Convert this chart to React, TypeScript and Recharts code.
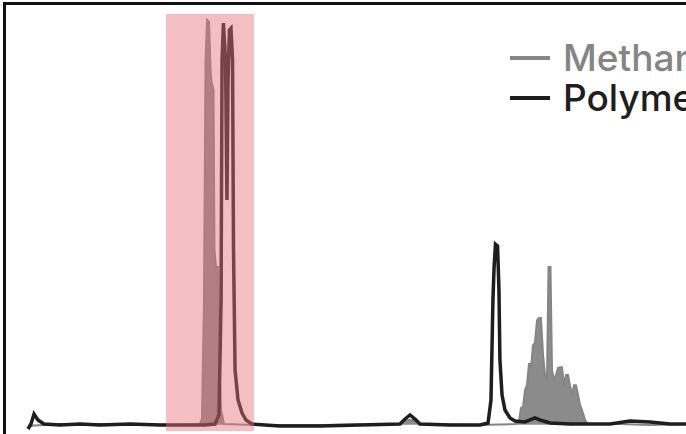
import { Area, ComposedChart, Line, ReferenceArea, XAxis, YAxis } from "recharts";

const METHANOL_COLOR = "#858585";
const POLYMER_COLOR = "#1e1e1e";
const HIGHLIGHT = "#e4707a";

const SERIES_NAMES = ["Methanol", "Polymer"];

// highlighted elution window (retention time)
const WINDOW_START = 9.86;
const WINDOW_END = 16.14;

// [retention time, signal]
const methanol: [number, number][] = [
  [0, 1.2], [2.29, 1.68], [6.57, 1.68], [10.86, 1.44], [12.29, 1.68],
  [12.43, 3.12], [12.57, 31.4], [12.68, 89.0], [12.79, 98.6], [12.93, 98.1],
  [13.04, 86.6], [13.11, 83.7], [13.25, 81.8], [13.32, 43.4], [13.43, 39.3],
  [13.57, 39.3], [13.64, 19.4], [13.79, 5.04], [14.0, 1.68], [16.57, 1.44],
  [20.86, 1.44], [26.57, 1.68], [27.14, 2.64], [27.57, 2.64], [28.0, 1.68],
  [32.29, 1.44], [34.79, 1.68], [35.07, 2.16], [35.21, 5.52], [35.36, 5.76],
  [35.5, 9.83], [35.64, 11.0], [35.79, 16.3], [35.93, 15.1], [36.07, 20.6],
  [36.21, 21.1], [36.36, 26.6], [36.5, 27.1], [36.64, 27.1], [36.79, 18.2],
  [36.93, 13.4], [37.07, 12.2], [37.18, 39.3], [37.32, 39.3], [37.43, 14.6],
  [37.57, 12.2], [37.71, 13.4], [37.86, 15.1], [38.0, 15.3], [38.14, 15.3],
  [38.29, 11.0], [38.43, 13.4], [38.57, 13.4], [38.71, 11.0], [38.86, 8.63],
  [39.0, 11.0], [39.14, 11.0], [39.29, 8.63], [39.43, 6.24], [39.57, 5.04],
  [39.79, 2.64], [40.0, 1.68], [42.29, 1.68], [44.43, 1.44], [47, 1.68],
];

const polymer: [number, number][] = [
  [0, 0.48], [0.21, 1.68], [0.43, 4.08], [0.71, 2.64], [1.14, 1.68],
  [2.29, 1.44], [3.71, 1.68], [5.14, 1.44], [7.29, 1.68], [9.43, 1.44],
  [11.57, 1.44], [12.64, 1.44], [13.36, 1.68], [13.64, 3.84], [13.79, 31.4],
  [13.86, 89.0], [13.96, 97.8], [14.11, 89.0], [14.21, 55.4], [14.29, 84.2],
  [14.39, 96.2], [14.5, 96.6], [14.61, 89.0], [14.68, 43.4], [14.79, 14.6],
  [15.0, 7.43], [15.29, 4.32], [15.57, 2.64], [16.0, 1.68], [18.0, 1.2],
  [20.86, 1.2], [23.71, 1.44], [26.57, 1.68], [26.93, 2.88], [27.29, 3.84],
  [27.64, 2.88], [28.0, 1.68], [30.14, 1.44], [32.29, 1.44], [32.86, 1.92],
  [33.07, 7.43], [33.21, 31.4], [33.29, 39.1], [33.39, 44.8], [33.54, 44.4],
  [33.64, 33.8], [33.71, 17.0], [33.86, 8.63], [34.07, 5.04], [34.43, 3.12],
  [34.79, 2.4], [35.5, 2.16], [36.21, 3.12], [36.57, 2.64], [37.29, 1.92],
  [38.71, 1.68], [40.14, 1.68], [41.57, 1.68], [43.0, 2.4], [44.43, 2.16],
  [45.86, 1.68], [47, 1.68],
];

const toPoints = (rows: [number, number][]) => rows.map(([t, v]) => ({ t, v }));

function LegendRow({ name, color }: { name: string; color: string }) {
  return (
    <div style={{ display: "flex", alignItems: "center", height: 40, lineHeight: "40px" }}>
      <span style={{ display: "inline-block", width: 40, height: 4, background: color, marginRight: 13 }} />
      <span style={{ color, whiteSpace: "nowrap" }}>{name}</span>
    </div>
  );
}

export default function App() {
  return (
    <div
      style={{
        position: "absolute",
        left: 0,
        top: 0,
        width: 686,
        height: 434,
        overflow: "hidden",
        background: "#fff",
      }}
    >
      <div
        style={{
          position: "absolute",
          left: 3,
          top: 2,
          width: 720,
          height: 460,
          borderLeft: "3px solid #111",
          borderTop: "3px solid #111",
          boxSizing: "border-box",
        }}
      />
      <ComposedChart width={686} height={434} margin={{ top: 14, right: 0, bottom: 3, left: 28 }}>
        <XAxis
          type="number"
          dataKey="t"
          domain={[0, 47]}
          tick={false}
          tickLine={false}
          axisLine={{ stroke: POLYMER_COLOR, strokeWidth: 2.5 }}
          height={0}
        />
        <YAxis type="number" domain={[0, 100]} hide />
        <Area
          data={toPoints(methanol)}
          dataKey="v"
          type="linear"
          baseValue={1.5}
          stroke={METHANOL_COLOR}
          strokeWidth={2}
          fill={METHANOL_COLOR}
          fillOpacity={0.95}
          isAnimationActive={false}
        />
        <Line
          data={toPoints(polymer)}
          dataKey="v"
          type="linear"
          stroke={POLYMER_COLOR}
          strokeWidth={3.5}
          dot={false}
          isAnimationActive={false}
        />
        <ReferenceArea
          x1={WINDOW_START}
          x2={WINDOW_END}
          fill={HIGHLIGHT}
          fillOpacity={0.45}
          stroke="none"
          zIndex={450}
        />
      </ComposedChart>
      <div
        style={{
          position: "absolute",
          left: 510,
          top: 38,
          fontFamily: "Inter, sans-serif",
          fontWeight: 500,
          fontSize: 37,
        }}
      >
        <LegendRow name={SERIES_NAMES[0]} color={METHANOL_COLOR} />
        <LegendRow name={SERIES_NAMES[1]} color={POLYMER_COLOR} />
      </div>
    </div>
  );
}
